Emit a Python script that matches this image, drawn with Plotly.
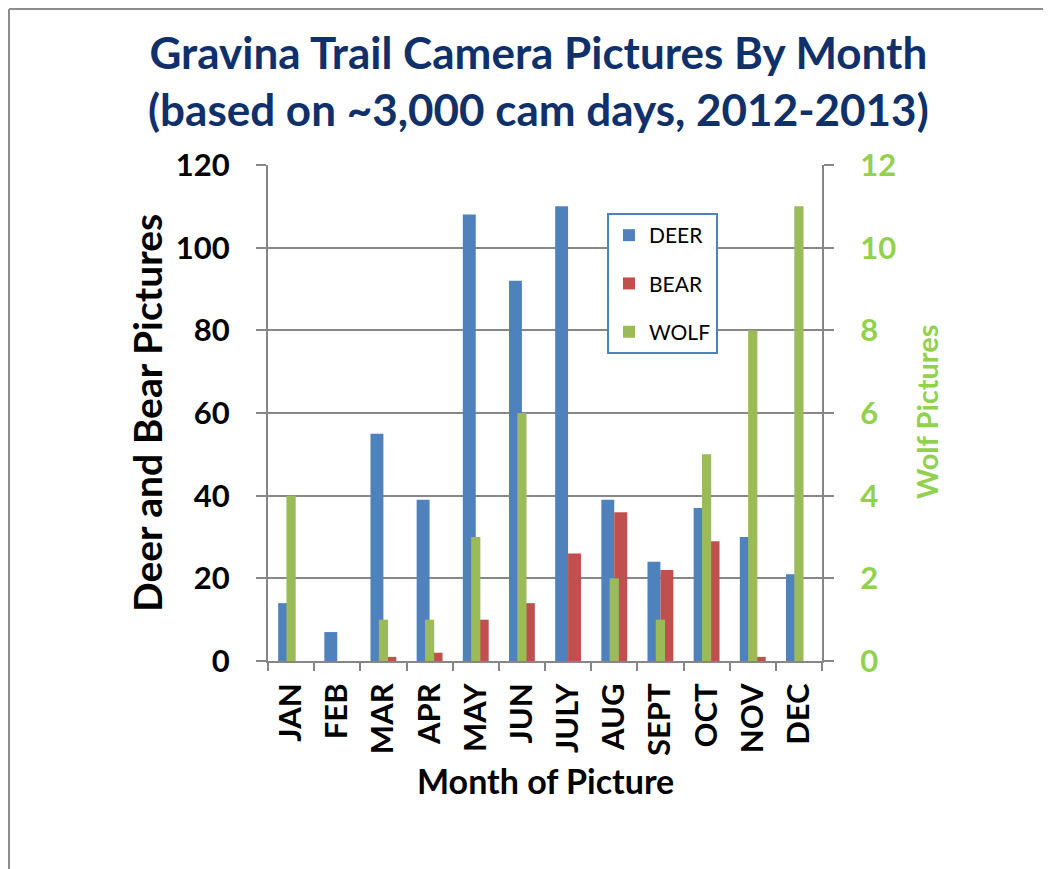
import plotly.graph_objects as go

months = ["JAN", "FEB", "MAR", "APR", "MAY", "JUN", "JULY", "AUG", "SEPT", "OCT", "NOV", "DEC"]
deer = [14, 7, 55, 39, 108, 92, 110, 39, 24, 37, 30, 21]
bear = [0, 0, 1, 2, 10, 14, 26, 36, 22, 29, 1, 0]
wolf = [4, 0, 1, 1, 3, 6, 0, 2, 1, 5, 8, 11]
left_ticks = [0, 20, 40, 60, 80, 100, 120]
right_ticks = [0, 2, 4, 6, 8, 10, 12]

C_DEER = "#4F81BD"
C_BEAR = "#C0504D"
C_WOLF = "#9BBB59"
C_WOLF_TXT = "#92D050"
GRID = "#868686"
FONT = "Lato"

OFF = 8  # page body margin
# plot area in reference pixels
RL, RR, RT, RB = 268, 822, 165, 661
W, H = 1051, 869
L, R, T, B = RL - OFF, RR - OFF, RT - OFF, RB - OFF
def px(x):
    return (x - RL) / (RR - RL)
def py(y):
    return (RB - y) / (RB - RT)

fig = go.Figure()
fig.add_trace(go.Bar(x=months, y=deer, name="DEER", marker=dict(color=C_DEER, line=dict(width=0)),
                     width=0.28, offset=-0.28, legendgroup="d"))
fig.add_trace(go.Bar(x=months, y=bear, name="BEAR", marker=dict(color=C_BEAR, line=dict(width=0)),
                     width=0.28, offset=0.0, legendgroup="b"))
fig.add_trace(go.Bar(x=months, y=wolf, name="WOLF", marker=dict(color=C_WOLF, line=dict(width=0)),
                     width=0.2, offset=-0.1, yaxis="y2", legendgroup="w"))

fig.update_layout(
    width=W, height=H,
    margin=dict(l=L, r=W - R, t=T, b=H - B, pad=0),
    paper_bgcolor="white", plot_bgcolor="white",
    barmode="overlay",
    font=dict(family=FONT, color="black"),
    xaxis=dict(
        type="category", categoryorder="array", categoryarray=months,
        showline=True, linecolor=GRID, linewidth=2,
        ticks="outside", tickson="boundaries", ticklen=8, tickwidth=2, tickcolor=GRID,
        tickangle=-90, tickfont=dict(family=FONT, size=31, color="black", weight="bold"),
        showgrid=False, ticklabelstandoff=8,
    ),
    yaxis=dict(
        range=[0, 120], tickvals=left_ticks, ticktext=[str(v) for v in left_ticks],
        showline=True, linecolor=GRID, linewidth=2,
        ticks="outside", ticklen=10, tickwidth=2, tickcolor=GRID,
        showgrid=True, gridcolor=GRID, gridwidth=2, zeroline=False,
        tickfont=dict(family=FONT, size=31, color="black", weight="bold"),
        ticklabelstandoff=20,
    ),
    yaxis2=dict(
        range=[0, 12], tickvals=right_ticks, ticktext=[str(v) for v in right_ticks],
        overlaying="y", side="right",
        showline=True, linecolor=GRID, linewidth=2,
        ticks="outside", ticklen=10, tickwidth=2, tickcolor=GRID,
        showgrid=False, zeroline=False,
        tickfont=dict(family=FONT, size=31, color=C_WOLF_TXT, weight="bold"),
        ticklabelstandoff=20,
    ),
    legend=dict(
        x=px(607), y=py(213), xanchor="left", yanchor="top",
        bgcolor="white", bordercolor=C_DEER, borderwidth=2,
        font=dict(family=FONT, size=21, color="black"),
        tracegroupgap=18, traceorder="grouped",
    ),
    showlegend=True,
)

annotations = [
    dict(text="Gravina Trail Camera Pictures By Month<br>(based on ~3,000 cam days, 2012-2013)",
         x=px(538), y=py(80), xref="paper", yref="paper", xanchor="center", yanchor="middle",
         showarrow=False, font=dict(family=FONT, size=44, color="#10306A", weight="bold")),
    dict(text="Deer and Bear Pictures", textangle=-90,
         x=px(147), y=py(413), xref="paper", yref="paper", xanchor="center", yanchor="middle",
         showarrow=False, font=dict(family=FONT, size=39, color="black", weight="bold")),
    dict(text="Wolf Pictures", textangle=-90,
         x=px(926), y=py(412), xref="paper", yref="paper", xanchor="center", yanchor="middle",
         showarrow=False, font=dict(family=FONT, size=29, color=C_WOLF_TXT, weight="bold")),
    dict(text="Month of Picture",
         x=px(545), y=py(780), xref="paper", yref="paper", xanchor="center", yanchor="middle",
         showarrow=False, font=dict(family=FONT, size=34, color="black", weight="bold")),
]
fig.update_layout(annotations=annotations)

# outer frame (top and left edges visible in the reference)
fig.add_shape(type="line", xref="paper", yref="paper", x0=px(9), x1=px(1070), y0=py(9), y1=py(9),
              line=dict(color="#8C8C8C", width=2))
fig.add_shape(type="line", xref="paper", yref="paper", x0=px(9), x1=px(9), y0=py(9), y1=py(890),
              line=dict(color="#8C8C8C", width=2))

fig.write_html("out.html")
